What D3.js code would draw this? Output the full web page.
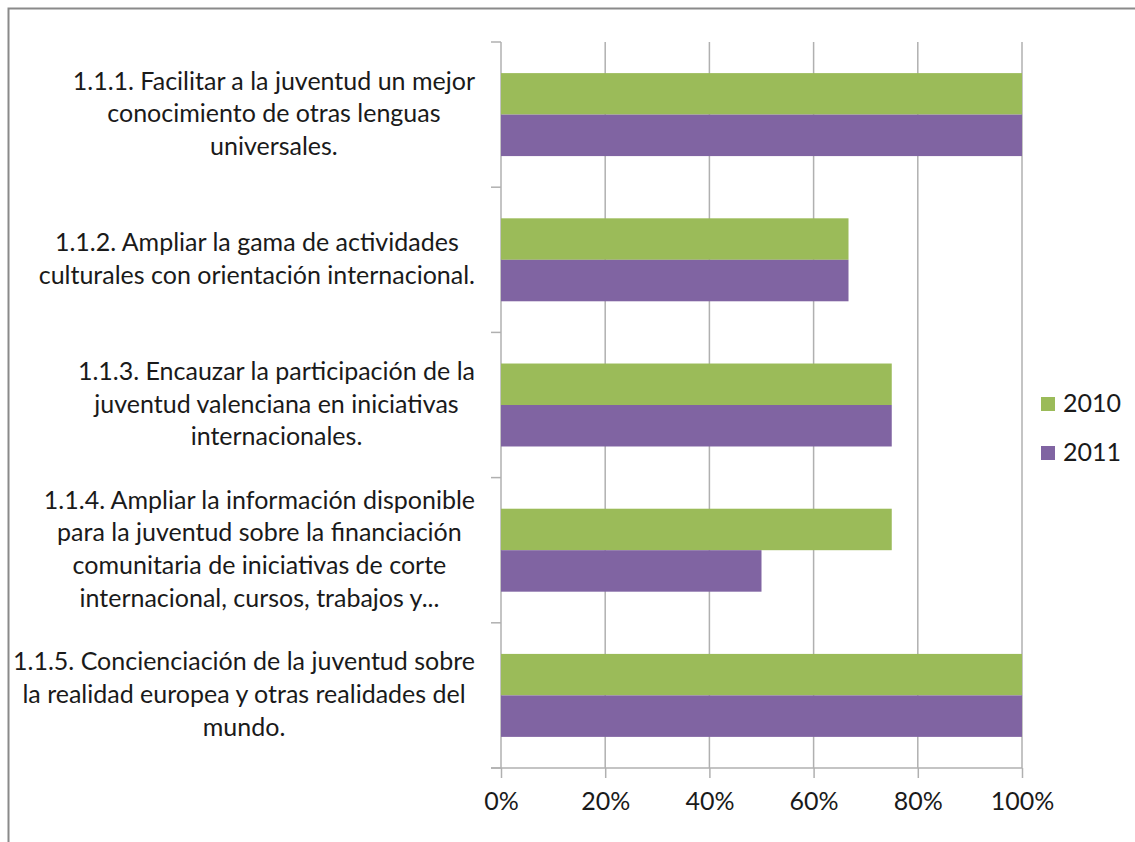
<!DOCTYPE html>
<html><head><meta charset="utf-8">
<script src="https://cdn.jsdelivr.net/npm/d3@7"></script>
<style>
html,body{margin:0;padding:0;background:#fff;}
svg text{font-family:Lato,"Open Sans",sans-serif;fill:#1a1a1a;}
</style></head>
<body><svg id="c" width="1135" height="842"></svg>
<script>
const categories = ["1.1.1","1.1.2","1.1.3","1.1.4","1.1.5"];
const categoryLabels = [
  ["1.1.1. Facilitar a la juventud un mejor", "conocimiento de otras lenguas", "universales."],
  ["1.1.2. Ampliar la gama de actividades", "culturales con orientación internacional."],
  ["1.1.3. Encauzar la participación de la", "juventud valenciana en iniciativas", "internacionales."],
  ["1.1.4. Ampliar la información disponible", "para la juventud sobre la financiación", "comunitaria de iniciativas de corte", "internacional, cursos, trabajos y..."],
  ["1.1.5. Concienciación de la juventud sobre", "la realidad europea y otras realidades del", "mundo."]
];
const seriesNames = ["2010","2011"];
const values2010 = [1.00, 0.667, 0.75, 0.75, 1.00];
const values2011 = [1.00, 0.667, 0.75, 0.50, 1.00];
const tickValues = [0, 0.2, 0.4, 0.6, 0.8, 1.0];
const colors = ["#9BBB59", "#8064A2"];

const FS = 25, LH = 32.6;
const svg = d3.select("#c");
// chart border
svg.append("rect").attr("x",8.5).attr("y",8.5).attr("width",1200).attr("height",900)
  .attr("fill","none").attr("stroke","#8a8a8a").attr("stroke-width",2);

const x = d3.scaleLinear().domain([0,1]).range([501,1022]);
const y0 = d3.scaleBand().domain(categories).range([42,768]).padding(0);
const y1 = d3.scaleBand().domain(seriesNames).range([0,y0.bandwidth()]).paddingInner(0).paddingOuter(0.75);

const gridColor = "#b0b0b0";
// x axis with gridlines
const xAxis = svg.append("g").attr("transform","translate(0,768)")
  .call(d3.axisBottom(x).tickValues(tickValues).tickFormat(d3.format(".0%")).tickSizeInner(10).tickSizeOuter(0).tickPadding(14));
xAxis.select(".domain").remove();
xAxis.selectAll(".tick line").attr("stroke",gridColor).attr("stroke-width",1.5);
xAxis.selectAll(".tick text").attr("font-size",FS).attr("fill","#1a1a1a").attr("dy","0.72em");
svg.append("g").selectAll("line").data(tickValues).join("line")
  .attr("x1",d=>x(d)).attr("x2",d=>x(d)).attr("y1",42).attr("y2",768)
  .attr("stroke",gridColor).attr("stroke-width",1.5);
// x axis baseline
svg.append("line").attr("x1",491).attr("x2",x(1)).attr("y1",768).attr("y2",768)
  .attr("stroke",gridColor).attr("stroke-width",1.5);
// category tick marks
const bounds = categories.map(c=>y0(c)).concat([y0.range()[1]]);
svg.append("g").selectAll("line").data(bounds).join("line")
  .attr("x1",491).attr("x2",501).attr("y1",d=>d).attr("y2",d=>d)
  .attr("stroke",gridColor).attr("stroke-width",1.5);

// bars
const data = categories.map((c,i)=>({c, vals:[values2010[i], values2011[i]]}));
const g = svg.append("g").selectAll("g").data(data).join("g")
  .attr("transform",d=>`translate(0,${y0(d.c)})`);
g.selectAll("rect").data(d=>d.vals.map((v,j)=>({v,s:seriesNames[j],j}))).join("rect")
  .attr("x",x(0)).attr("y",d=>y1(d.s)).attr("width",d=>x(d.v)-x(0)).attr("height",y1.bandwidth())
  .attr("fill",d=>colors[d.j]);

// category labels
const lab = svg.append("g");
categoryLabels.forEach((lines,i)=>{
  const cy = y0(categories[i]) + y0.bandwidth()/2;
  const n = lines.length;
  const t = lab.append("text").attr("font-size",FS).attr("text-anchor","middle");
  const spans = lines.map((l,k)=>t.append("tspan").text(l)
      .attr("y", cy + (k-(n-1)/2)*LH + 0.3*FS));
  let maxW = 0;
  spans.forEach(s=>{maxW=Math.max(maxW, s.node().getComputedTextLength());});
  const right = 475;
  const cx = right - maxW/2;
  spans.forEach(s=>s.attr("x",cx));
});

// legend
const leg = svg.append("g").selectAll("g").data(seriesNames).join("g")
  .attr("transform",(d,i)=>`translate(1041,${397+i*49})`);
leg.append("rect").attr("width",14).attr("height",14).attr("fill",(d,i)=>colors[i]);
leg.append("text").attr("x",22).attr("y",15).attr("font-size",FS).text(d=>d);
</script></body></html>
